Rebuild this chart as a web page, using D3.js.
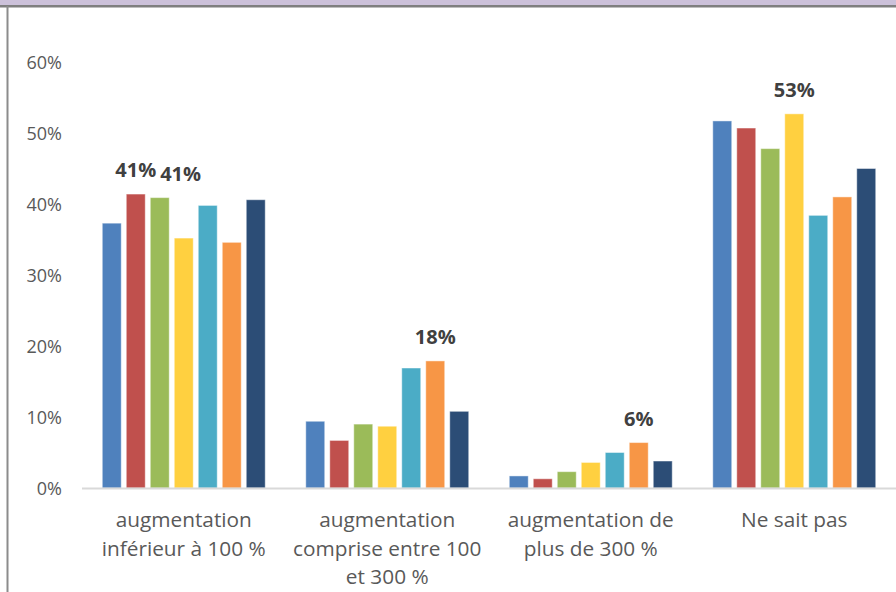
<!DOCTYPE html>
<html><head><meta charset="utf-8">
<script src="https://cdn.jsdelivr.net/npm/d3@7/dist/d3.min.js"></script>
<style>body{margin:0;background:#fff;}svg{display:block;}</style>
</head><body>
<svg id="chart" width="896" height="592"></svg>
<script>
const categories = ["augmentation inférieur à 100 %", "augmentation comprise entre 100 et 300 %", "augmentation de plus de 300 %", "Ne sait pas"];
const seriesNames = ["S1","S2","S3","S4","S5","S6","S7"];
const s1 = [37.3, 9.4, 1.7, 51.7];
const s2 = [41.4, 6.7, 1.3, 50.7];
const s3 = [40.9, 9.0, 2.3, 47.8];
const s4 = [35.2, 8.7, 3.6, 52.7];
const s5 = [39.8, 16.9, 5.0, 38.4];
const s6 = [34.6, 17.9, 6.4, 41.0];
const s7 = [40.6, 10.8, 3.8, 45.0];
const seriesValues = [s1, s2, s3, s4, s5, s6, s7];
const colors = ["#4f81bd","#c0504d","#9bbb59","#ffd040","#4bacc6","#f79646","#2c4d76"];
const yTicks = [0, 10, 20, 30, 40, 50, 60];
// data labels shown: [categoryIndex, seriesIndex, text]
const dataLabels = [[0,1,"41%"],[0,2,"41%"],[1,5,"18%"],[2,5,"6%"],[3,3,"53%"]];

const svg = d3.select("#chart");
const W = 896, H = 592;
// frame
svg.append("rect").attr("x",0).attr("y",0).attr("width",W).attr("height",6).attr("fill","#ccc1da");
svg.append("rect").attr("x",0).attr("y",5).attr("width",W).attr("height",2.5).attr("fill","#7f7f7f");
svg.append("rect").attr("x",6.5).attr("y",6).attr("width",2).attr("height",H).attr("fill","#8c8c8c");

const y = d3.scaleLinear().domain([0,60]).range([488,62]);
const x0 = d3.scaleBand().domain(categories).range([82, 896]).padding(0);
const x1 = d3.scaleBand().domain(seriesNames).range([0, x0.bandwidth()]).paddingInner(0.21).paddingOuter(0.845);

// y axis labels
const yAxis = d3.axisLeft(y).tickValues(yTicks).tickFormat(d => d + "%").tickSize(0).tickPadding(0);
const ga = svg.append("g").attr("transform","translate(62,0)").call(yAxis);
ga.select(".domain").remove();
ga.selectAll("text").attr("font-family","'Open Sans', sans-serif").attr("font-size","18px").attr("fill","#595959").attr("dy","0.35em");

// bars
const g = svg.append("g");
categories.forEach((c, ci) => {
  seriesNames.forEach((s, si) => {
    const v = seriesValues[si][ci];
    g.append("rect")
      .attr("x", x0(c) + x1(s))
      .attr("y", y(v))
      .attr("width", x1.bandwidth())
      .attr("height", y(0) - y(v))
      .attr("fill", colors[si])
      .attr("stroke", "rgba(255,255,255,0.45)")
      .attr("stroke-width", 1);
  });
});

// baseline
svg.append("line").attr("x1",82).attr("x2",896).attr("y1",y(0)+0.5).attr("y2",y(0)+0.5)
  .attr("stroke","#d9d9d9").attr("stroke-width",2);

// category labels, wrapped
const maxW = 190;
const catFont = "20.8px";
categories.forEach((c) => {
  const cx = x0(c) + x0.bandwidth()/2;
  const t = svg.append("text").attr("text-anchor","middle")
    .attr("font-family","'Open Sans', sans-serif").attr("font-size",catFont).attr("fill","#595959");
  const words = c.split(" ");
  let lines = [], cur = [];
  const probe = svg.append("text").attr("font-family","'Open Sans', sans-serif").attr("font-size",catFont);
  words.forEach(w => {
    const test = cur.concat([w]).join(" ");
    probe.text(test);
    if (probe.node().getComputedTextLength() > maxW && cur.length) { lines.push(cur.join(" ")); cur = [w]; }
    else cur.push(w);
  });
  if (cur.length) lines.push(cur.join(" "));
  probe.remove();
  lines.forEach((ln, i) => {
    t.append("tspan").attr("x", cx).attr("y", 527 + i*28.5).text(ln);
  });
});

// data labels with simple collision avoidance
let prevRight = -Infinity, prevCat = -1;
dataLabels.forEach(([ci, si, txt]) => {
  const c = categories[ci], s = seriesNames[si];
  const v = seriesValues[si][ci];
  const cx = x0(c) + x1(s) + x1.bandwidth()/2;
  const t = svg.append("text").attr("text-anchor","middle")
    .attr("font-family","'Open Sans', sans-serif").attr("font-size","20px").attr("font-weight","bold")
    .attr("fill","#404040").attr("x", cx).attr("y", y(v) - 17).text(txt);
  const w = t.node().getComputedTextLength();
  let left = cx - w/2;
  if (ci === prevCat && left < prevRight + 4) {
    left = prevRight + 4;
    t.attr("x", left + w/2);
  }
  prevRight = left + w; prevCat = ci;
});
</script>
</body></html>
